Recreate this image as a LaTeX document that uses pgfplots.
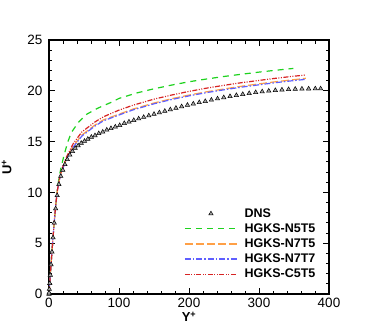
\documentclass[border=0pt]{standalone}
\usepackage{pgfplots}
\pgfplotsset{compat=1.18}
\usepackage{fontspec}
\setmainfont{Liberation Sans}

\definecolor{hgreen}{RGB}{30,210,30}
\definecolor{horange}{RGB}{255,160,70}
\definecolor{hblue}{RGB}{95,95,255}
\definecolor{hred}{RGB}{215,35,35}

\begin{document}
\begin{tikzpicture}
\path[use as bounding box] (-49pt,-38pt) rectangle (325pt,294pt);
\begin{axis}[
    scale only axis,
    width=280pt, height=254pt,
    xmin=0, xmax=400, ymin=0, ymax=25,
    xtick={0,100,200,300,400},
    ytick={0,5,10,15,20,25},
    minor x tick num=4,
    minor y tick num=4,
    tick align=inside,
    major tick length=6pt,
    minor tick length=3.5pt,
    every tick/.style={black, line width=0.9pt},
    axis line style={line width=1.4pt},
    tick label style={font=\fontsize{13.5}{15}\selectfont},
    xticklabel style={yshift=-1pt},
    yticklabel style={xshift=-3pt},
    /pgf/number format/assume math mode=true,
    xlabel={\textbf{Y\textsuperscript{+}}},
    ylabel={\textbf{U\textsuperscript{+}}},
    label style={font=\fontsize{13}{15}\selectfont},
    xlabel style={yshift=3pt},
    ylabel style={yshift=9pt},
    legend cell align=left,
    legend style={at={(rel axis cs:0.472,0.353)}, anchor=north west,
        draw=none, fill=none, font=\fontsize{12.5}{13}\selectfont\bfseries,
        row sep=0.9pt,
        /tikz/every odd column/.append style={column sep=5pt}},
    legend image code/.code={\draw[mark repeat=2,mark phase=2,line width=1.2pt,#1]
        plot coordinates {(0pt,0pt) (26pt,0pt) (52pt,0pt)};},
]
% DNS
\addplot[only marks, mark=triangle*, mark size=2.5pt, black,
    mark options={fill=black!35, draw=black, line width=0.5pt}]
coordinates {
(0,0) (0.117,0.12) (0.47,0.47) (1.057,1.05) (1.878,1.87) (2.933,2.9)
(4.221,4.15) (5.742,5.55) (7.494,7.0) (9.476,8.4) (11.688,9.7)
(14.127,10.8) (16.793,11.6) (19.684,12.2) (22.798,12.75) (26.133,13.25)
(29.687,13.7) (33.458,14.05) (37.444,14.35) (41.643,14.6) (46.051,14.85)
(50.666,15.05) (55.486,15.25) (60.507,15.45) (65.727,15.6) (71.142,15.8)
(76.749,15.95) (82.545,16.15) (88.526,16.3) (94.688,16.45) (101.029,16.6)
(107.544,16.8) (114.228,16.95) (121.079,17.1) (128.092,17.25) (135.263,17.4)
(142.587,17.55) (150.06,17.7) (157.677,17.85) (165.435,18.0) (173.328,18.15)
(181.351,18.3) (189.5,18.45) (197.77,18.6) (206.155,18.72) (214.652,18.85)
(223.254,18.97) (231.956,19.1) (240.754,19.22) (249.641,19.34) (258.613,19.45)
(267.664,19.56) (276.789,19.66) (285.982,19.75) (295.238,19.84) (304.551,19.92)
(313.915,19.99) (323.325,20.05) (332.775,20.1) (342.26,20.14) (351.773,20.17)
(361.31,20.19) (370.863,20.2) (380.429,20.21) (388,20.21)
};
\addlegendentry{DNS}
% HGKS-N5T5
\addplot[color=hgreen, line width=1.2pt, dash pattern=on 6pt off 5pt]
coordinates {
(0,0) (1,1) (2,2) (3,3) (4,3.95) (6,5.8) (8,7.5) (10,9.0) (12,10.3)
(14,11.3) (17,12.4) (22,13.8) (27,15.0) (32,15.9) (42,16.9) (54,17.7)
(70,18.3) (90,18.9) (100,19.25) (125,19.78) (150,20.2) (175,20.56)
(200,20.89) (225,21.16) (250,21.41) (275,21.63) (300,21.84) (325,22.03) (349,22.2)
};
\addlegendentry{HGKS-N5T5}
% HGKS-N7T5
\addplot[color=horange, line width=1.2pt, dash pattern=on 8pt off 3pt]
coordinates {
(0,0) (1,1) (2,2) (3,3) (4,3.95) (6,5.8) (8,7.5) (10,9.0) (12,10.2)
(15,11.3) (18,12.1) (25,13.3) (35,14.6) (47,15.65) (66,16.65) (78,17.15)
(100,17.7) (120,18.2) (150,18.8) (175,19.22) (200,19.58) (225,19.9)
(250,20.18) (275,20.45) (300,20.68) (320,20.86) (345,21.06) (367,21.23)
};
\addlegendentry{HGKS-N7T5}
% HGKS-N7T7
\addplot[color=hblue, line width=1.2pt, dash pattern=on 6pt off 2pt on 1.5pt off 2pt]
coordinates {
(0,0) (1,1) (2,2) (3,3) (4,3.95) (6,5.8) (8,7.5) (10,9.0) (12,10.2)
(15,11.25) (18,12.05) (25,13.25) (35,14.5) (47,15.55) (66,16.55) (78,17.05)
(100,17.62) (120,18.12) (150,18.72) (175,19.14) (200,19.5) (225,19.82)
(250,20.1) (275,20.36) (300,20.59) (320,20.77) (345,20.97) (367,21.13)
};
\addlegendentry{HGKS-N7T7}
% HGKS-C5T5
\addplot[color=hred, line width=1.2pt, dash pattern=on 5pt off 1.5pt on 1pt off 1.5pt on 1pt off 1.5pt]
coordinates {
(0,0) (1,1) (2,2) (3,3) (4,3.95) (6,5.8) (8,7.5) (10,9.0) (12,10.2)
(15,11.4) (18,12.2) (25,13.5) (35,14.85) (47,15.95) (66,16.95) (78,17.45)
(100,18.1) (120,18.58) (150,19.18) (175,19.58) (200,19.94) (225,20.26)
(250,20.54) (275,20.8) (300,21.02) (320,21.2) (345,21.4) (367,21.56)
};
\addlegendentry{HGKS-C5T5}
\end{axis}
\end{tikzpicture}
\end{document}
